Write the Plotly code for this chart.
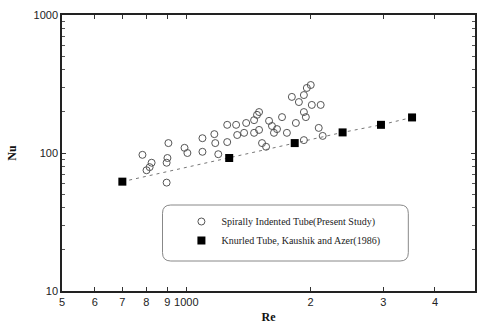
import plotly.graph_objects as go

# Spirally indented tube (present study)
spiral_re = [783, 824, 815, 801, 896, 900, 905, 990, 1006, 896,
             1094, 1094, 1169, 1175, 1195, 1256, 1256, 1320, 1328, 1380,
             1396, 1459, 1483, 1459, 1525, 1500, 1500, 1560, 1586, 1612,
             1630, 1658, 1705, 1752, 1801, 1842, 1873, 1926, 1926, 1947,
             1958, 2001, 2013, 1926, 2092, 2115, 2139]
spiral_nu = [97, 85, 79, 75, 85, 92, 118, 109, 100, 61,
             128, 102, 137, 118, 98, 120, 160, 160, 135, 140,
             165, 173, 189, 140, 118, 147, 198, 111, 171, 157,
             140, 149, 182, 140, 255, 165, 234, 263, 198, 182,
             296, 311, 223, 124, 152, 223, 133]

# Knurled tube, Kaushik and Azer (1986)
knurl_re = [700, 1270, 1830, 2390, 2960, 3520]
knurl_nu = [62, 92, 118, 141, 160, 181]

x_tickvals = [500, 600, 700, 800, 900, 1000, 2000, 3000, 4000, 5000]
x_ticktext = ["5", "6", "7", "8", "9", "1000", "2", "3", "4", "5"]
y_tickvals = [10, 100, 1000]
y_ticktext = ["10", "100", "1000"]

fig = go.Figure()

fig.add_trace(go.Scatter(
    x=knurl_re, y=knurl_nu, mode="lines", showlegend=False,
    line=dict(color="#777", width=1, dash="3px,4px"), hoverinfo="skip"))

fig.add_trace(go.Scatter(
    x=spiral_re, y=spiral_nu, mode="markers",
    name="Spirally Indented Tube(Present Study)",
    marker=dict(symbol="circle-open", size=7, color="#555",
                line=dict(width=1, color="#555"))))

fig.add_trace(go.Scatter(
    x=knurl_re, y=knurl_nu, mode="markers",
    name="Knurled Tube, Kaushik and Azer(1986)",
    marker=dict(symbol="square", size=8, color="black")))

axis_common = dict(
    showgrid=False, zeroline=False, showline=True, linecolor="#222",
    linewidth=1.5, mirror="ticks", ticks="inside", ticklen=4,
    tickcolor="#333", tickwidth=1,
    tickfont=dict(family="Liberation Sans", size=11, color="#222"),
)

fig.update_xaxes(
    type="log", range=[2.69897, 3.69897],
    tickvals=x_tickvals, ticktext=x_ticktext,
    title=dict(text="<b>Re</b>", font=dict(family="Liberation Serif", size=12, color="#111"),
               standoff=6),
    **axis_common)
fig.update_yaxes(
    type="log", range=[1, 3],
    tickvals=y_tickvals, ticktext=y_ticktext,
    minor=dict(ticks="inside", ticklen=3, tickcolor="#555",
               tickvals=[20, 30, 40, 50, 60, 70, 80, 90, 200, 300, 400, 500, 600, 700, 800, 900]),
    title=dict(text="<b>Nu</b>", font=dict(family="Liberation Serif", size=12, color="#111"),
               standoff=14),
    **axis_common)

# rounded legend frame
x0, x1 = (163 - 62) / 415, (410 - 62) / 415
y0, y1 = (291 - 261) / 276, (291 - 205) / 276
r = 0.02
ry = r * 415 / 276
path = (f"M {x0+r},{y1} L {x1-r},{y1} Q {x1},{y1} {x1},{y1-ry} "
        f"L {x1},{y0+ry} Q {x1},{y0} {x1-r},{y0} L {x0+r},{y0} "
        f"Q {x0},{y0} {x0},{y0+ry} L {x0},{y1-ry} Q {x0},{y1} {x0+r},{y1} Z")
fig.add_shape(type="path", path=path, xref="paper", yref="paper",
              line=dict(color="#888", width=1), fillcolor="rgba(0,0,0,0)")

fig.update_layout(
    width=478, height=328,
    margin=dict(l=62, r=1, t=15, b=37),
    paper_bgcolor="white", plot_bgcolor="white",
    showlegend=True,
    legend=dict(x=(182 - 62) / 415, y=(291 - 207) / 276, xanchor="left", yanchor="top",
                bgcolor="rgba(0,0,0,0)", borderwidth=0,
                font=dict(family="Liberation Serif", size=10, color="#222"),
                tracegroupgap=5),
)

fig.write_html("out.html")
